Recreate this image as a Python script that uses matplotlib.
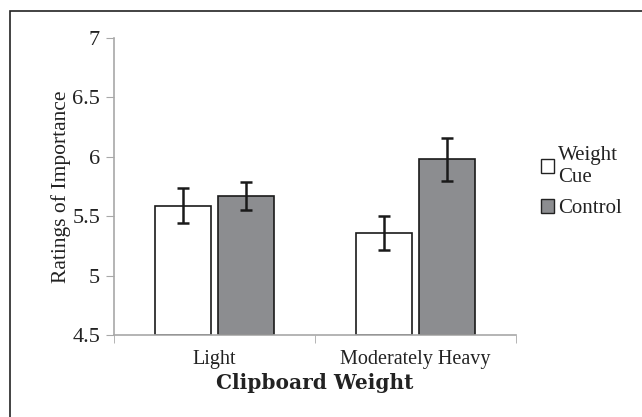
import numpy as np
import matplotlib
matplotlib.use("Agg")
import matplotlib.pyplot as plt
from matplotlib.patches import Patch, Rectangle

# ratings
categories = ["Light", "Moderately Heavy"]
series = ["Weight\nCue", "Control"]
means = [[5.59, 5.36],   # weight cue
         [5.67, 5.98]]   # control
errs = [[0.15, 0.145],
        [0.12, 0.18]]
yticks = [4.5, 5, 5.5, 6, 6.5, 7]

colors = ["white", "#8c8d90"]

plt.rcParams['font.family'] = ['Liberation Serif', 'DejaVu Serif']

fig = plt.figure(figsize=(6.42, 4.17), dpi=100)
ax = fig.add_axes([114/642, 1-335/417, (516-114)/642, (335-38)/417])

# outer frame (only left/top visible in the source crop)
fig.patches.append(Rectangle((10/642, -0.1), 1.1, 1 - 11/417 + 0.1,
                             transform=fig.transFigure, fill=False,
                             edgecolor="#222222", linewidth=1.2))

x = np.arange(len(categories))
w = 0.28
gap = 0.03
for i, name in enumerate(series):
    off = (i - 0.5) * (w + gap)
    ax.bar(x + off, np.array(means[i]) - 4.5, w, bottom=4.5, color=colors[i],
           edgecolor="#1a1a1a", linewidth=1.2, zorder=2)
    ax.errorbar(x + off, means[i], yerr=errs[i], fmt="none", ecolor="#1a1a1a",
                elinewidth=1.8, capsize=4, capthick=1.8, zorder=3)

ax.set_xlim(-0.5, 1.5)
ax.set_ylim(4.5, 7)
ax.set_yticks(yticks)
ax.set_yticklabels(["4.5", "5", "5.5", "6", "6.5", "7"])
ax.set_xticks(x)
ax.set_xticklabels(categories)
ax.set_xticks([-0.5, 0.5, 1.5], minor=True)
ax.tick_params(axis="x", which="major", length=0, pad=11, labelsize=14.5,
               labelcolor="#222222")
ax.tick_params(axis="x", which="minor", length=6, color="#a8a8a8", direction="out")
ax.tick_params(axis="y", length=6, color="#a8a8a8", labelsize=16, pad=4,
               labelcolor="#222222")

for s in ["top", "right"]:
    ax.spines[s].set_visible(False)
for s in ["left", "bottom"]:
    ax.spines[s].set_color("#a8a8a8")
    ax.spines[s].set_linewidth(1.2)

ax.set_ylabel("Ratings of Importance", fontsize=15.5, labelpad=1, color="#222222")
ax.set_xlabel("Clipboard Weight", fontsize=14.5, fontweight="bold",
              family=["DejaVu Serif"], labelpad=3, color="#222222")

handles = [Patch(facecolor=c, edgecolor="#222222", linewidth=1.0) for c in colors]
fig.legend(handles, series, loc="upper left", bbox_to_anchor=(522/642, 1-127/417),
           frameon=False, fontsize=15, handlelength=0.65, handleheight=0.65,
           handletextpad=0.2, labelspacing=0.6, labelcolor="#222222")

fig.savefig("out.png", dpi=100)
